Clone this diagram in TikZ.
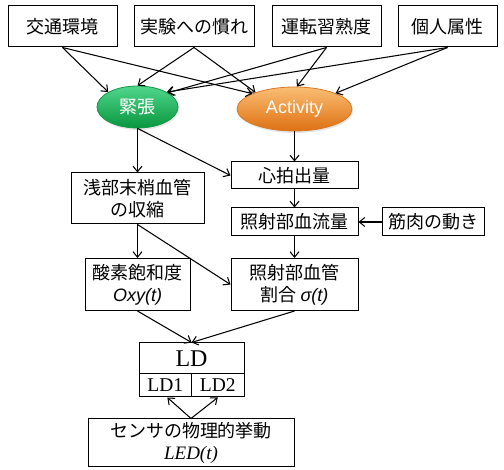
\documentclass[tikz,border=0pt]{standalone}
\usepackage{fontspec}
\setmainfont{Liberation Serif}
\newfontfamily\jpf{Noto Sans CJK JP}
\newfontfamily\lsf{Liberation Sans}
\usetikzlibrary{arrows.meta,shapes.geometric,shadows}
\definecolor{gTop}{RGB}{80,214,140}
\definecolor{gMid}{RGB}{16,184,82}
\definecolor{gBot}{RGB}{8,150,62}
\definecolor{gLine}{RGB}{20,150,70}
\definecolor{oTop}{RGB}{250,190,115}
\definecolor{oMid}{RGB}{243,146,40}
\definecolor{oBot}{RGB}{222,112,18}
\definecolor{oLine}{RGB}{214,120,40}
\begin{document}
\begin{tikzpicture}[x=1pt,y=-1pt,
  box/.style={draw, line width=1pt, inner sep=0pt, align=center,
    font=\jpf\fontsize{18}{22}\selectfont},
  serifbox/.style={draw, line width=1pt, inner sep=0pt, align=center},
  arr/.style={-{Straight Barb[length=5.5pt,width=9pt]}, line width=1.05pt},
  ell/.style={ellipse, inner sep=0pt, text=white, line width=0.8pt,
    drop shadow={opacity=0.2, shadow xshift=1pt, shadow yshift=-2pt}},
  greenell/.style={ell, draw=gLine, top color=gTop, middle color=gMid, bottom color=gBot},
  orangeell/.style={ell, draw=oLine, top color=oTop, middle color=oMid, bottom color=oBot}]
\useasboundingbox (0,0) rectangle (504,470);

% top row
\node[box, minimum width=109, minimum height=41] (t1) at (62.5,26.5) {交通環境};
\node[box, minimum width=120, minimum height=41] (t2) at (194,26.5) {実験への慣れ};
\node[box, minimum width=109, minimum height=41] (t3) at (326.5,26.5) {運転習熟度};
\node[box, minimum width=99, minimum height=41] (t4) at (447.5,26.5) {個人属性};

% ellipses
\node[greenell, minimum width=81, minimum height=42,
  font=\jpf\fontsize{18}{22}\selectfont] (e1) at (137.5,107) {緊張};
\node[orangeell, minimum width=115, minimum height=44,
  font=\lsf\fontsize{18}{22}\selectfont] (e2) at (294.5,109) {Activity};

% middle boxes
\node[box, minimum width=133, minimum height=51] (b1) at (137.5,198.5) {浅部末梢血管\\の収縮};
\node[box, minimum width=127, minimum height=27] (b2) at (294.5,175.5) {心拍出量};
\node[box, minimum width=127, minimum height=28] (b3) at (294.5,222) {照射部血流量};
\node[box, minimum width=102, minimum height=28] (b4) at (433,222) {筋肉の動き};
\node[box, minimum width=105, minimum height=52] (b5) at (137.5,284.5) {酸素飽和度\\{\lsf\itshape Oxy(t)}};
\node[box, minimum width=127, minimum height=52] (b6) at (294.5,284.5) {照射部血管\\割合 {\lsf\itshape σ(t)}};

% LD block
\node[serifbox, minimum width=105, minimum height=31,
  font=\fontsize{24}{26}\selectfont] (ld) at (191.5,358.5) {LD};
\node[serifbox, minimum width=52.5, minimum height=23,
  font=\fontsize{19.5}{21}\selectfont] (ld1) at (165.25,385.5) {LD1};
\node[serifbox, minimum width=52.5, minimum height=23,
  font=\fontsize{19.5}{21}\selectfont] (ld2) at (217.75,385.5) {LD2};

% LED box
\node[box, minimum width=206, minimum height=48] (led) at (191,443)
  {センサの物理的挙動\\{\rmfamily\itshape\fontsize{19}{22}\selectfont LED(t)}};

% arrows: top row to ellipses
\draw[arr] (t1.south) -- (e1.153);
\draw[arr] (t1.south) -- (e2.160);
\draw[arr] (t2.south) -- (e1.90);
\draw[arr] (t2.south) -- (e2.157);
\draw[arr] (t3.south) -- (e1.25);
\draw[arr] (t3.south) -- (e2.84);
\draw[arr] (t4.south) -- (e1.27);
\draw[arr] (t4.south) -- (e2.21);

% ellipses to boxes
\draw[arr] (e1.south) -- (b1.north);
\draw[arr] (e1.south) -- (b2.west);
\draw[arr] (e2.south) -- (b2.north);
\draw[arr] (b2.south) -- (b3.north);
\draw[arr] (b4.west) -- (b3.east);
\draw[arr] (b3.south) -- (b6.north);
\draw[arr] (b1.south) -- (b5.north);
\draw[arr] (b1.south) -- (b6.west);
\draw[arr] (b5.south) -- (ld.north);
\draw[arr] (b6.south) -- (ld.north);
\draw[arr] (led.north) -- (ld1.-80);
\draw[arr] (led.north) -- (ld2.south);
\end{tikzpicture}
\end{document}
